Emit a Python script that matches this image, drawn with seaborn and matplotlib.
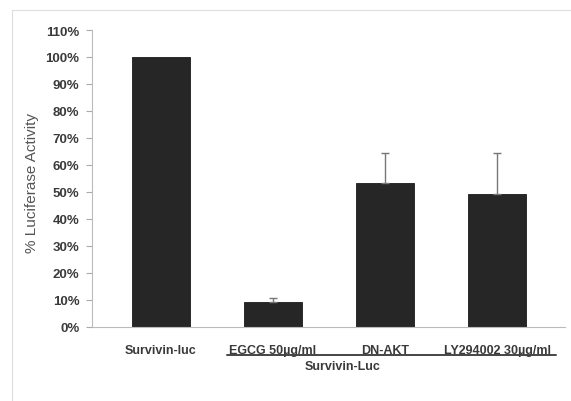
import matplotlib
matplotlib.use("Agg")
import matplotlib.pyplot as plt
from matplotlib.lines import Line2D
from matplotlib.patches import Rectangle
import seaborn as sns
import pandas as pd

categories = ["Survivin-luc", "EGCG 50µg/ml", "DN-AKT", "LY294002 30µg/ml"]
activity = [100.0, 9.3, 53.3, 49.3]
error_up = [0.0, 1.4, 11.1, 15.1]
y_ticks = [0, 10, 20, 30, 40, 50, 60, 70, 80, 90, 100, 110]
group_label = "Survivin-Luc"

sns.set_theme(style="white")
plt.rcParams["font.family"] = ["Liberation Sans", "DejaVu Sans"]

df = pd.DataFrame({"construct": categories, "activity": activity})

W, H = 571, 402
fig = plt.figure(figsize=(W / 100, H / 100), dpi=100)
ax = fig.add_axes([92 / W, 1 - 328 / H, (565 - 92) / W, (328 - 31) / H])

sns.barplot(data=df, x="construct", y="activity", order=categories,
            color="#262626", saturation=1, width=0.51, errorbar=None, ax=ax,
            edgecolor="#1a1a1a", linewidth=0.6)

# upper-only error bars, skipped where there is no spread
err_x = [i for i, e in enumerate(error_up) if e > 0]
ax.errorbar(err_x, [activity[i] for i in err_x],
            yerr=[[0] * len(err_x), [error_up[i] for i in err_x]], fmt="none",
            ecolor="#777777", elinewidth=1.0, capsize=3, capthick=1.0)

xs = list(range(len(categories)))
ax.set_xlim(-0.616, 3.607)
ax.set_ylim(0, 110)
ax.set_yticks(y_ticks)
ax.set_yticklabels([f"{t}%" for t in y_ticks], fontsize=9.5, fontweight="bold",
                   color="#3a3a3a")
ax.tick_params(axis="y", length=4, width=0.8, color="#aaaaaa", pad=5, left=True)
ax.tick_params(axis="x", length=0, pad=12)
ax.set_xticks(xs)
ax.set_xticklabels(categories, fontsize=9, fontweight="bold", color="#3a3a3a")
ax.set_xlabel("")
ax.set_ylabel("% Luciferase Activity", fontsize=11, color="#555555")
ax.yaxis.set_label_coords(39 / W, 1 - 183 / H, transform=fig.transFigure)

for side in ["top", "right"]:
    ax.spines[side].set_visible(False)
for side in ["left", "bottom"]:
    ax.spines[side].set_color("#bbbbbb")
    ax.spines[side].set_linewidth(0.8)

# bracket underline grouping the treated constructs
fig.add_artist(Line2D([227 / W, 556 / W], [1 - 356 / H, 1 - 356 / H],
                      color="#444444", linewidth=1.4))
fig.text(343 / W, 1 - 367 / H, group_label, ha="center", va="center",
         fontsize=9, fontweight="bold", color="#3a3a3a")

# chart area frame
fig.add_artist(Rectangle((12 / W, -0.05), 1.2, 1 - 11 / H + 0.05,
                         transform=fig.transFigure, fill=False,
                         edgecolor="#dddddd", linewidth=0.8))

fig.savefig("out.png", dpi=100, facecolor="white")
